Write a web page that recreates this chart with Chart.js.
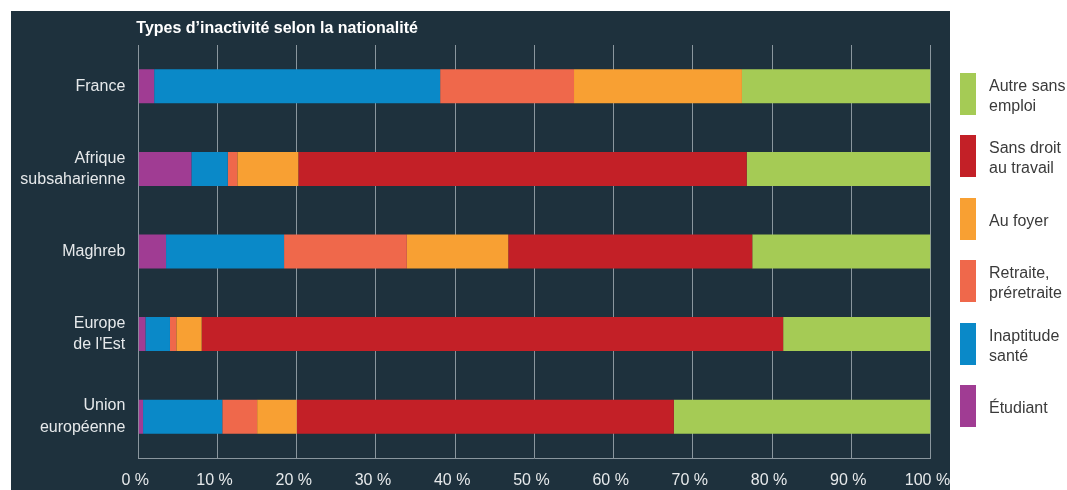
<!DOCTYPE html>
<html>
<head>
<meta charset="utf-8">
<script src="https://cdn.jsdelivr.net/npm/chart.js@4/dist/chart.umd.min.js"></script>
<style>
  html, body { margin: 0; padding: 0; background: #ffffff; width: 1067px; height: 490px; overflow: hidden; }
  #panel { position: absolute; left: 11px; top: 11px; width: 939px; height: 479px; background: #1e313d; }
  #wrap { position: absolute; left: 0; top: 0; width: 1000px; height: 490px; }
  #legend { position: absolute; left: 960px; top: 73px; font-family: 'Liberation Sans', Arial, sans-serif; font-size: 16px; color: #3a3a3a; }
  .item { position: absolute; left: 0; width: 110px; height: 42px; display: flex; align-items: center; }
  .sw { width: 16px; height: 42px; flex: none; }
  .lab { margin-left: 13px; line-height: 20px; white-space: nowrap; padding-top: 4px; }
</style>
</head>
<body>
<div id="panel"></div>
<div id="wrap"><canvas id="c" width="1000" height="490"></canvas></div>
<div id="legend"></div>
<script>
const title = "Types d\u2019inactivit\u00e9 selon la nationalit\u00e9";
const categories = [["France"], ["Afrique", "subsaharienne"], ["Maghreb"], ["Europe", "de l'Est"], ["Union", "europ\u00e9enne"]];
const seriesNames = ["\u00c9tudiant", "Inaptitude sant\u00e9", "Retraite, pr\u00e9retraite", "Au foyer", "Sans droit au travail", "Autre sans emploi"];
const legendLines = [["\u00c9tudiant"], ["Inaptitude", "sant\u00e9"], ["Retraite,", "pr\u00e9retraite"], ["Au foyer"], ["Sans droit", "au travail"], ["Autre sans", "emploi"]];
const colors = ["#a03c93", "#0a89c8", "#ef684b", "#f8a033", "#c32027", "#a5cb55"];
const etudiant   = [2.0, 6.7, 3.5, 0.9, 0.6];
const inaptitude = [36.1, 4.6, 14.9, 3.1, 10.0];
const retraite   = [16.9, 1.2, 15.5, 0.8, 4.4];
const auFoyer    = [21.2, 7.7, 12.8, 3.2, 5.0];
const sansDroit  = [0, 56.6, 30.8, 73.4, 47.6];
const autre      = [23.8, 23.2, 22.5, 18.6, 32.4];
const xTicks = [0, 10, 20, 30, 40, 50, 60, 70, 80, 90, 100];

const seriesValues = [etudiant, inaptitude, retraite, auFoyer, sansDroit, autre];
const FONT = "'Liberation Sans', Arial, sans-serif";

const titlePlugin = {
  id: 'panelTitle',
  afterDraw(chart) {
    const ctx = chart.ctx;
    ctx.save();
    ctx.font = "bold 16px " + FONT;
    ctx.fillStyle = "#ffffff";
    ctx.textAlign = "left";
    ctx.textBaseline = "alphabetic";
    ctx.fillText(title, chart.chartArea.left - 2, 33);
    ctx.restore();
  }
};

new Chart(document.getElementById('c'), {
  type: 'bar',
  data: {
    labels: categories,
    datasets: seriesNames.map((n, i) => ({
      label: n,
      data: seriesValues[i],
      backgroundColor: colors[i],
      borderWidth: 0,
      barPercentage: 1,
      categoryPercentage: 0.412
    }))
  },
  options: {
    indexAxis: 'y',
    responsive: false,
    animation: false,
    devicePixelRatio: 1,
    layout: { padding: { top: 45, right: 69.5, bottom: 0, left: 0 } },
    plugins: { legend: { display: false }, tooltip: { enabled: false }, title: { display: false } },
    scales: {
      x: {
        stacked: true,
        min: 0, max: 100,
        afterBuildTicks(scale) { scale.ticks = xTicks.map(v => ({ value: v })); },
        afterFit(scale) { scale.height = 32; },
        grid: { color: '#8a969e', lineWidth: 1, drawTicks: false },
        border: { display: true, color: '#8a969e', width: 1 },
        ticks: {
          color: '#e6e9eb',
          font: { family: FONT, size: 16 },
          padding: 13,
          maxRotation: 0,
          labelOffset: -3,
          callback: v => v + ' %'
        }
      },
      y: {
        stacked: true,
        afterFit(scale) { scale.width = 138.3; },
        grid: { display: false, drawTicks: false },
        border: { display: false },
        ticks: {
          color: '#e6e9eb',
          font: { family: FONT, size: 16, lineHeight: 1.35 },
          padding: 13
        }
      }
    }
  },
  plugins: [titlePlugin]
});

const legend = document.getElementById('legend');
for (let k = 0; k < seriesNames.length; k++) {
  const i = seriesNames.length - 1 - k;
  const it = document.createElement('div');
  it.className = 'item';
  it.style.top = (k * 62.4) + 'px';
  const sw = document.createElement('div');
  sw.className = 'sw';
  sw.style.background = colors[i];
  const lab = document.createElement('div');
  lab.className = 'lab';
  lab.innerHTML = legendLines[i].join('<br>');
  it.appendChild(sw); it.appendChild(lab);
  legend.appendChild(it);
}
</script>
</body>
</html>
